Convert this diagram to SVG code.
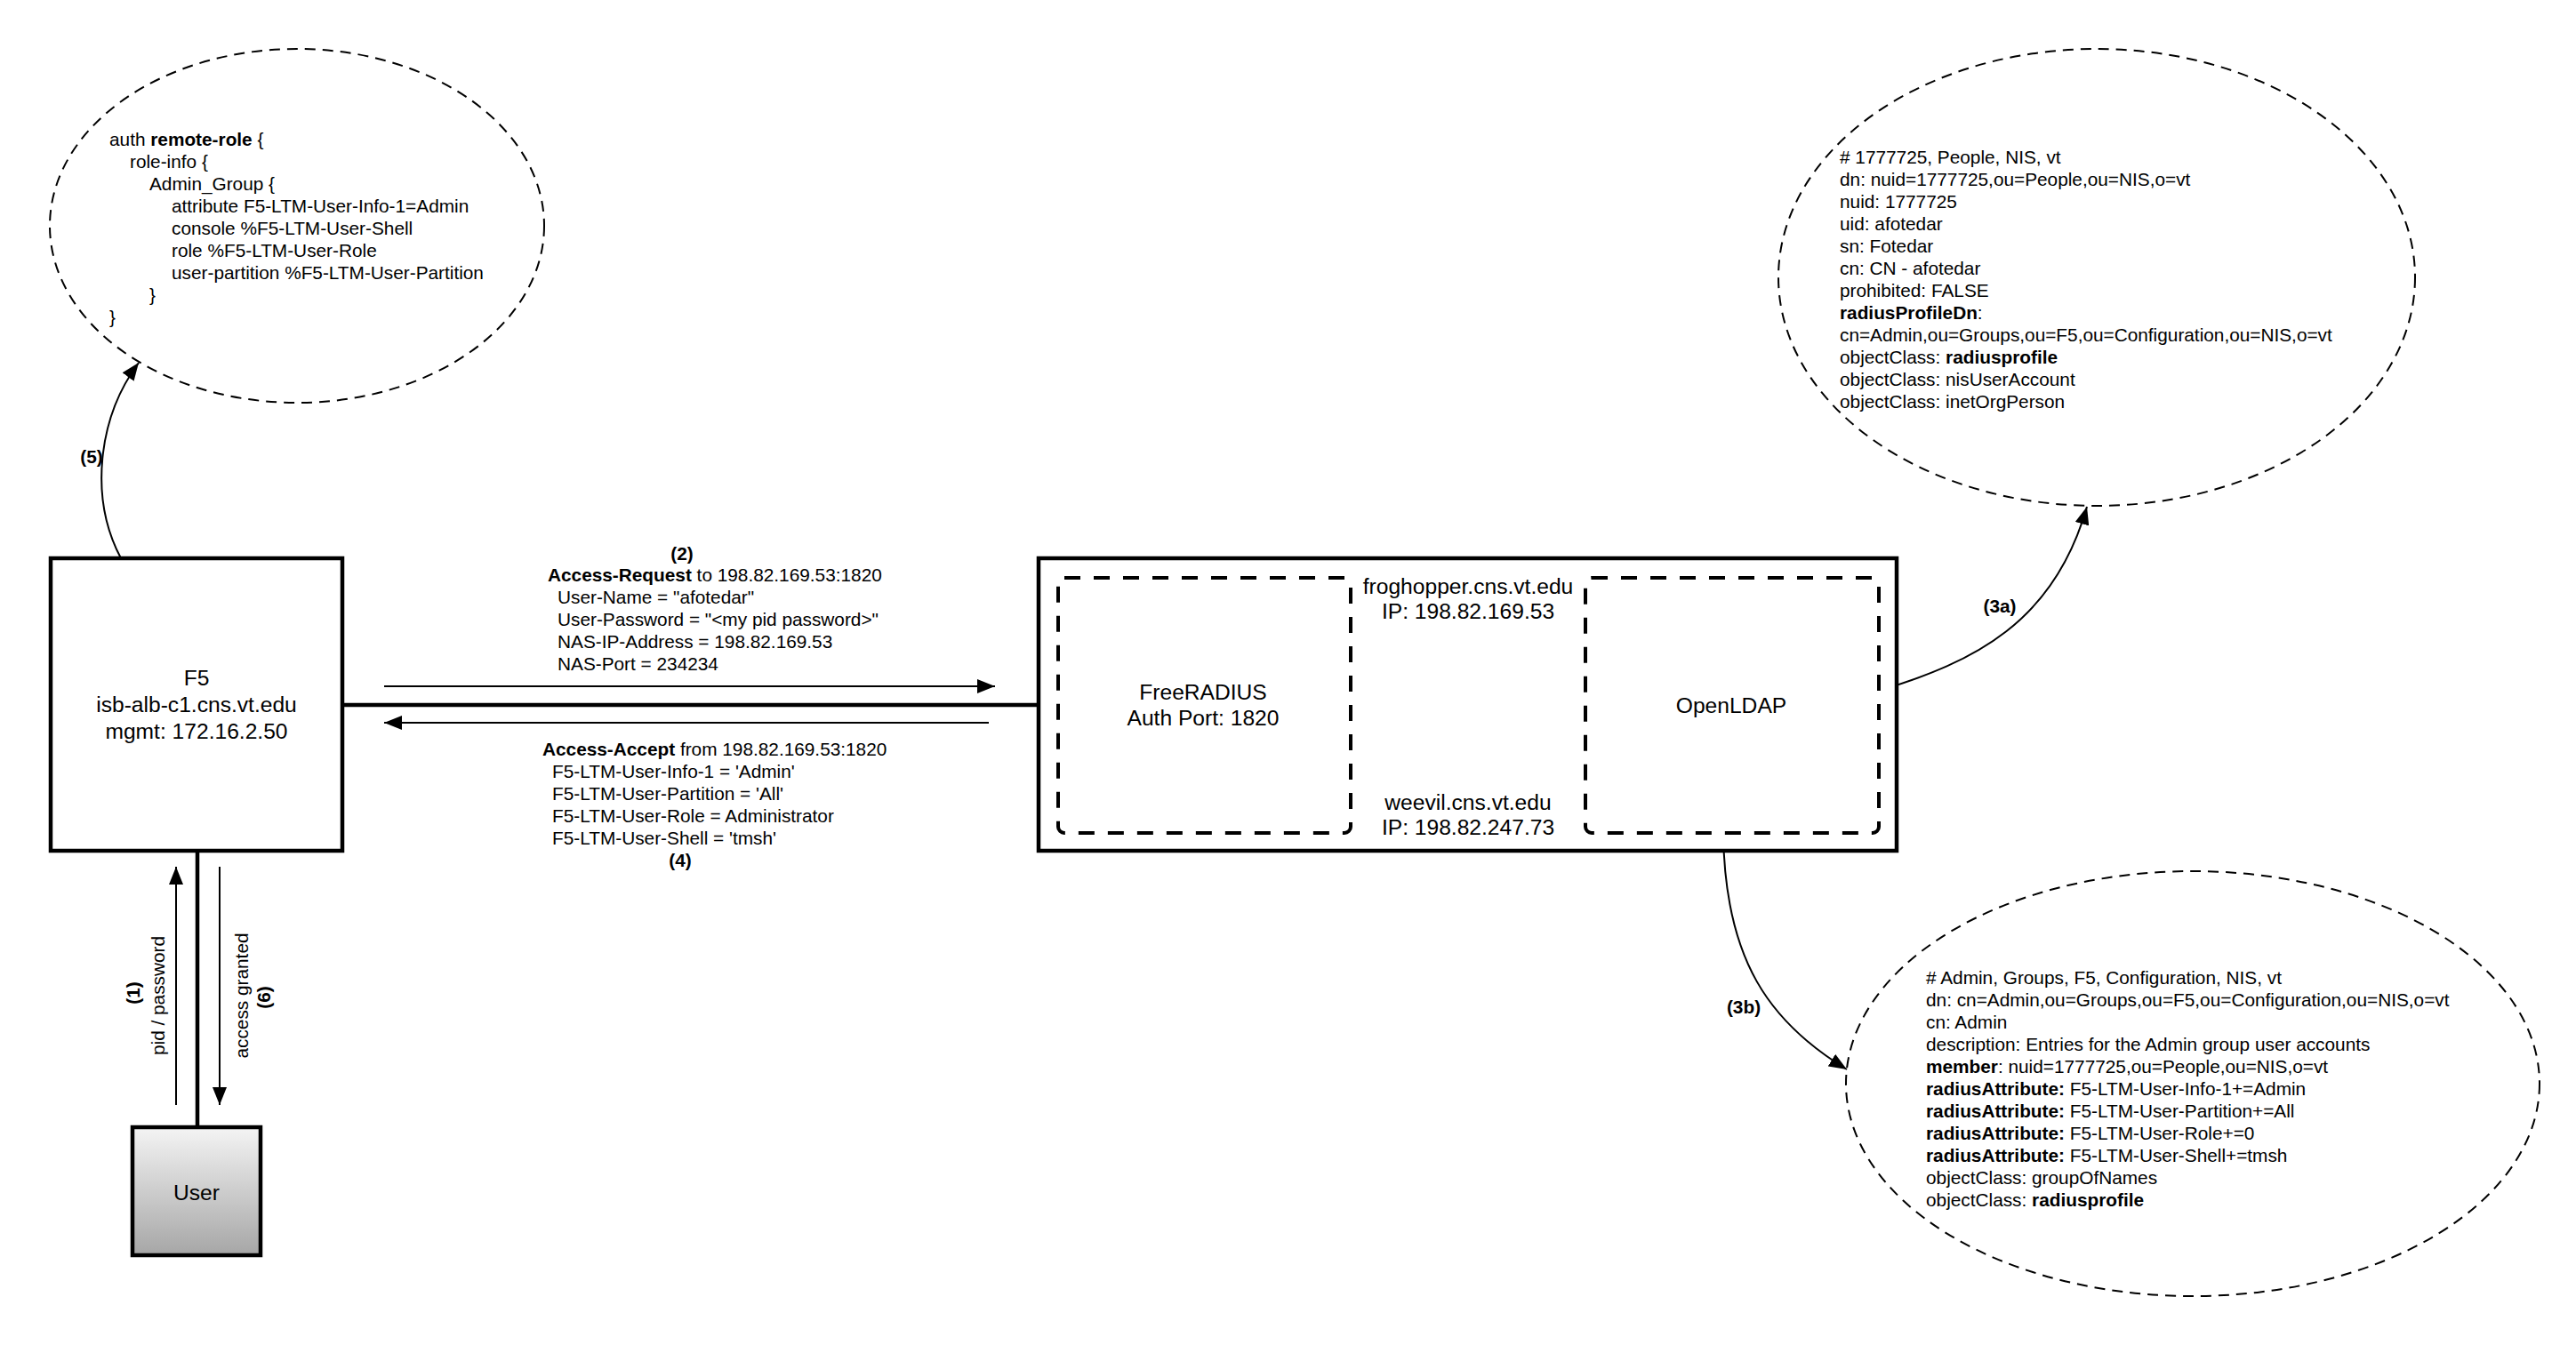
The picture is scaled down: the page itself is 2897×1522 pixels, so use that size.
<svg xmlns="http://www.w3.org/2000/svg" width="2897" height="1522" viewBox="0 0 2897 1522">
<defs>
<style>
text{font-family:"Liberation Sans",Arial,Helvetica,sans-serif;fill:#000}
.s{font-size:20.8px}
.l{font-size:24.6px}
.m{text-anchor:middle}
.b{font-weight:bold}
.box{fill:#fff;stroke:#000;stroke-width:4.5}
.dbox{fill:none;stroke:#000;stroke-width:4;stroke-dasharray:18 15}
.ell{fill:none;stroke:#000;stroke-width:2;stroke-dasharray:12 8}
.thin{fill:none;stroke:#000;stroke-width:2}
.thick{fill:none;stroke:#000;stroke-width:4.5}
</style>
<marker id="ah" markerUnits="userSpaceOnUse" markerWidth="20" markerHeight="16" refX="20" refY="8" orient="auto">
<path d="M0,0 L20,8 L0,16 z" fill="#000"/>
</marker>
<marker id="ahb" markerUnits="userSpaceOnUse" markerWidth="26" markerHeight="22" refX="0" refY="11" orient="auto">
<path d="M0,0 L26,11 L0,22 z" fill="#000"/>
</marker>
<linearGradient id="ug" x1="0" y1="0" x2="0" y2="1">
<stop offset="0" stop-color="#f4f4f4"/>
<stop offset="1" stop-color="#a6a6a6"/>
</linearGradient>
</defs>
<rect width="2897" height="1522" fill="#fff"/>

<g id="connectors">
<path class="thick" d="M385 793 H1190"/>
<path class="thick" d="M222 957 V1268"/>
<path class="thin" d="M432 772 H1119" marker-end="url(#ah)"/>
<path class="thin" d="M1112 813 H432" marker-end="url(#ah)"/>
<path class="thin" d="M198 1243 V975" marker-end="url(#ah)"/>
<path class="thin" d="M247 975 V1243" marker-end="url(#ah)"/>
<path class="thick" d="M1520 793 H1753" marker-end="url(#ahb)"/>
<path class="thin" d="M136 628 C100 560 110 470 156 408" marker-end="url(#ah)"/>
<path class="thin" d="M2113 777 C2220 745 2310 700 2347 570" marker-end="url(#ah)"/>
<path class="thin" d="M1938 938 C1940 1080 1990 1150 2077 1203" marker-end="url(#ah)"/>
<text class="s b m" x="103" y="521">(5)</text>
<text class="s b m" x="767" y="630">(2)</text>
<text class="s" x="616" y="654"><tspan class="b">Access-Request</tspan> to 198.82.169.53:1820</text>
<text class="s" x="627" y="679">User-Name = "afotedar"</text>
<text class="s" x="627" y="704">User-Password = "&lt;my pid password&gt;"</text>
<text class="s" x="627" y="729">NAS-IP-Address = 198.82.169.53</text>
<text class="s" x="627" y="754">NAS-Port = 234234</text>
<text class="s" x="610" y="850"><tspan class="b">Access-Accept</tspan> from 198.82.169.53:1820</text>
<text class="s" x="621" y="875">F5-LTM-User-Info-1 = 'Admin'</text>
<text class="s" x="621" y="900">F5-LTM-User-Partition = 'All'</text>
<text class="s" x="621" y="925">F5-LTM-User-Role = Administrator</text>
<text class="s" x="621" y="950">F5-LTM-User-Shell = 'tmsh'</text>
<text class="s b m" x="765" y="975">(4)</text>
<text class="s b m" x="1651" y="779">(3)</text>
<text class="s b m" x="2249" y="689">(3a)</text>
<text class="s b m" x="1961" y="1140">(3b)</text>
<text class="s b m" x="157" y="1117" transform="rotate(-90 157 1117)">(1)</text>
<text class="s m" x="185" y="1120" transform="rotate(-90 185 1120)">pid / password</text>
<text class="s m" x="279" y="1120" transform="rotate(-90 279 1120)">access granted</text>
<text class="s b m" x="304" y="1122" transform="rotate(-90 304 1122)">(6)</text>
</g>

<g id="f5">
<rect class="box" x="57" y="628" width="328" height="329"/>
<text class="l m" x="221" y="771">F5</text>
<text class="l m" x="221" y="801">isb-alb-c1.cns.vt.edu</text>
<text class="l m" x="221" y="831">mgmt: 172.16.2.50</text>
</g>

<g id="user">
<rect x="149" y="1268" width="144" height="144" fill="url(#ug)" stroke="#000" stroke-width="4.5"/>
<text class="l m" x="221" y="1350">User</text>
</g>

<g id="server">
<rect class="box" x="1168" y="628" width="965" height="329"/>
<text class="l m" x="1651" y="668">froghopper.cns.vt.edu</text>
<text class="l m" x="1651" y="696">IP: 198.82.169.53</text>
<text class="l m" x="1651" y="911">weevil.cns.vt.edu</text>
<text class="l m" x="1651" y="939">IP: 198.82.247.73</text>
</g>

<g id="freeradius">
<rect class="dbox" x="1190" y="650" width="329" height="287" rx="7"/>
<text class="l m" x="1353" y="787">FreeRADIUS</text>
<text class="l m" x="1353" y="816">Auth Port: 1820</text>
</g>

<g id="openldap">
<rect class="dbox" x="1783" y="650" width="330" height="287" rx="7"/>
<text class="l m" x="1947" y="802">OpenLDAP</text>
</g>

<g id="f5-config">
<ellipse class="ell" cx="334" cy="254" rx="278" ry="199"/>
<text class="s" x="123" y="164">auth <tspan class="b">remote-role</tspan> {</text>
<text class="s" x="146" y="189">role-info {</text>
<text class="s" x="168" y="214">Admin_Group {</text>
<text class="s" x="193" y="239">attribute F5-LTM-User-Info-1=Admin</text>
<text class="s" x="193" y="264">console %F5-LTM-User-Shell</text>
<text class="s" x="193" y="289">role %F5-LTM-User-Role</text>
<text class="s" x="193" y="314">user-partition %F5-LTM-User-Partition</text>
<text class="s" x="168" y="339">}</text>
<text class="s" x="123" y="364">}</text>
</g>

<g id="ldap-user">
<ellipse class="ell" cx="2358" cy="312" rx="358" ry="257"/>
<text class="s" x="2069" y="184"># 1777725, People, NIS, vt</text>
<text class="s" x="2069" y="209">dn: nuid=1777725,ou=People,ou=NIS,o=vt</text>
<text class="s" x="2069" y="234">nuid: 1777725</text>
<text class="s" x="2069" y="259">uid: afotedar</text>
<text class="s" x="2069" y="284">sn: Fotedar</text>
<text class="s" x="2069" y="309">cn: CN - afotedar</text>
<text class="s" x="2069" y="334">prohibited: FALSE</text>
<text class="s" x="2069" y="359"><tspan class="b">radiusProfileDn</tspan>:</text>
<text class="s" x="2069" y="384">cn=Admin,ou=Groups,ou=F5,ou=Configuration,ou=NIS,o=vt</text>
<text class="s" x="2069" y="409">objectClass: <tspan class="b">radiusprofile</tspan></text>
<text class="s" x="2069" y="434">objectClass: nisUserAccount</text>
<text class="s" x="2069" y="459">objectClass: inetOrgPerson</text>
</g>

<g id="ldap-group">
<ellipse class="ell" cx="2466" cy="1219" rx="390" ry="239"/>
<text class="s" x="2166" y="1107"># Admin, Groups, F5, Configuration, NIS, vt</text>
<text class="s" x="2166" y="1132">dn: cn=Admin,ou=Groups,ou=F5,ou=Configuration,ou=NIS,o=vt</text>
<text class="s" x="2166" y="1157">cn: Admin</text>
<text class="s" x="2166" y="1182">description: Entries for the Admin group user accounts</text>
<text class="s" x="2166" y="1207"><tspan class="b">member</tspan>: nuid=1777725,ou=People,ou=NIS,o=vt</text>
<text class="s" x="2166" y="1232"><tspan class="b">radiusAttribute:</tspan> F5-LTM-User-Info-1+=Admin</text>
<text class="s" x="2166" y="1257"><tspan class="b">radiusAttribute:</tspan> F5-LTM-User-Partition+=All</text>
<text class="s" x="2166" y="1282"><tspan class="b">radiusAttribute:</tspan> F5-LTM-User-Role+=0</text>
<text class="s" x="2166" y="1307"><tspan class="b">radiusAttribute:</tspan> F5-LTM-User-Shell+=tmsh</text>
<text class="s" x="2166" y="1332">objectClass: groupOfNames</text>
<text class="s" x="2166" y="1357">objectClass: <tspan class="b">radiusprofile</tspan></text>
</g>
</svg>
